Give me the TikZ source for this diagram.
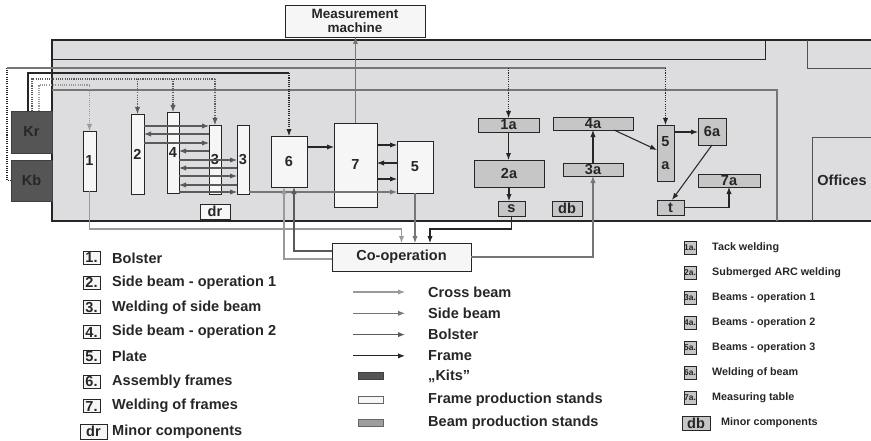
\documentclass[tikz,border=0pt]{standalone}
\usepackage{fontspec}
\setmainfont{Liberation Sans}
\usepackage{xcolor}
\definecolor{hall}{HTML}{DDDDDF}
\definecolor{kits}{HTML}{555555}
\definecolor{fstand}{HTML}{F6F6F6}
\definecolor{bstand}{HTML}{C6C6C6}
\definecolor{ink}{HTML}{262626}
\definecolor{crossc}{HTML}{9A9A9A}
\definecolor{sidec}{HTML}{767676}
\definecolor{bolsc}{HTML}{5A5A5A}
\definecolor{framec}{HTML}{262626}
\usetikzlibrary{arrows.meta,positioning}
\tikzset{
  sz/.style 2 args = {minimum width=#1*0.3mm, minimum height=#2*0.3mm},
  lbl/.style      = {font=\fontsize{12.4}{14}\selectfont\bfseries, text=ink},
  slbl/.style     = {font=\fontsize{9.2}{11}\selectfont\bfseries, text=ink},
  kit/.style      = {rectangle, draw=black!75, fill=kits, line width=0.6pt,
                     inner sep=0pt, outer sep=0pt, lbl, text=black!85},
  fstandbox/.style = {rectangle, draw=ink, fill=fstand, line width=0.8pt,
                     inner sep=0pt, outer sep=0pt, lbl},
  bstandbox/.style = {rectangle, draw=ink, fill=bstand, line width=0.8pt,
                     inner sep=0pt, outer sep=0pt, lbl},
  arrtip/.style   = {-{Latex[length=2.1mm,width=1.6mm]}},
  crossarr/.style = {draw=crossc, line width=0.9pt, arrtip},
  sidearr/.style  = {draw=sidec, line width=0.9pt, arrtip},
  bolsarr/.style  = {draw=bolsc, line width=0.9pt, arrtip},
  framearr/.style = {draw=framec, line width=0.9pt, arrtip}
}
\begin{document}
\begin{tikzpicture}[x=0.3mm, y=-0.3mm]
  \useasboundingbox (0,0) rectangle (871,441);

  % hall
  \fill[hall] (52,40) rectangle (871,221);
  \draw[framec, line width=2pt] (871,40) -- (52,40) -- (52,221) -- (871,221);
  \draw[framec, line width=0.8pt] (52,59) -- (765,59) -- (765,40);
  \draw[framec!80, line width=0.8pt] (807,40) -- (807,68) -- (871,68);
  \draw[sidec, line width=0.9pt] (52,90) -- (777,90) -- (777,221);
  \draw[framec!80, line width=0.8pt] (812,221) -- (812,137) -- (871,137);
  \node[lbl] (off) at (842,180) {Offices};

  % kits
  \node[kit, sz={41}{42}] (kr) at (31.5,132) {Kr};
  \node[kit, sz={41}{41}] (kb) at (31.5,180.5) {Kb};

  % frame production stands
  \node[fstandbox, sz={13}{60}] (n1) at (89.5,161) {1};
  \node[fstandbox, sz={13}{80}] (n2) at (137.5,154) {2};
  \node[fstandbox, sz={12}{81}] (n4) at (173,152.5) {4};
  \node[fstandbox, sz={12}{69}] (n3) at (215,159.5) {3};
  \node[fstandbox, sz={12}{69}] (n3b) at (243,159.5) {3};
  \node[fstandbox, sz={36}{51}] (n6) at (289,161.5) {6};
  \node[fstandbox, sz={43}{84}] (n7) at (355.5,165) {7};
  \node[fstandbox, sz={36}{52}] (n5) at (415,167) {5};
  \node[fstandbox, sz={30}{15}] (ndr) at (215,211.5) {dr};
  \node[fstandbox, sz={140}{32}, align=center,
        font=\fontsize{11.5}{11.5}\selectfont\bfseries] (mm) at (355,21)
       {Measurement\\machine};
  \node[fstandbox, sz={139}{28}] (coop) at (401.5,257) {Co-operation};

  % beam production stands
  \node[bstandbox, sz={61}{14}] (n1a) at (508.5,125) {1a};
  \node[bstandbox, sz={70}{27}] (n2a) at (509,173.5) {2a};
  \node[bstandbox, sz={27}{15}] (ns) at (511.5,208.5) {s};
  \node[bstandbox, sz={30}{15}] (ndb) at (567,208.5) {db};
  \node[bstandbox, sz={80}{13}] (n4a) at (593,123.5) {4a};
  \node[bstandbox, sz={60}{13}] (n3a) at (593,169.5) {3a};
  \node[bstandbox, sz={17}{56}, align=center] (n5a) at (665.5,153) {5\\[5pt]a};
  \node[bstandbox, sz={28}{27}] (n6a) at (712,131.5) {6a};
  \node[bstandbox, sz={62}{13}] (n7a) at (729,180.5) {7a};
  \node[bstandbox, sz={27}{15}] (nt) at (670.5,207.5) {t};

  % supply from the kits
  \draw[framec, line width=0.9pt] (kr.north -| 28,0) |- (n6.north |- 0,73);
  \draw[framearr, densely dotted] (n6.north |- 0,73) -- (n6.north);
  \draw[bolsc, line width=0.9pt, densely dotted] (kr.north -| 32,0) |- (n3.north |- 0,79);
  \foreach \n in {n2,n4,n3}
    \draw[bolsarr, densely dotted] (\n.north |- 0,79) -- (\n.north);
  \draw[crossarr, densely dotted] (kr.north -| 39,0) |- (n1.north |- 0,85) -- (n1.north);
  \draw[framec, line width=0.9pt, densely dotted] (kb.west) -- (7,180.5) -- (7,68);
  \draw[sidec, line width=0.9pt] (7,68) -- (n5a.north |- 0,68);
  \foreach \n in {n1a,n5a}
    \draw[framearr, densely dotted] (\n.north |- 0,68) -- (\n.north);

  % flows between the stands
  \foreach \a/\b/\y in {n2/n3/126, n2/n3/143, n4/n3b/160, n4/n3b/176, n4/n3b/192}
    \draw[bolsarr] (\a.east |- 0,\y) -- (\b.west |- 0,\y);
  \foreach \a/\b/\y in {n3/n2/134, n3/n4/151, n3b/n4/168, n3b/n4/185}
    \draw[bolsarr] (\a.west |- 0,\y) -- (\b.east |- 0,\y);
  \draw[sidearr] (n3b.east |- 0,192) -- (n5.west |- 0,192);
  \foreach \a/\b/\y in {n6/n7/147, n7/n5/145, n7/n5/179}
    \draw[framearr] (\a.east |- 0,\y) -- (\b.west |- 0,\y);
  \draw[framearr] (n5.west |- 0,163) -- (n7.east |- 0,163);
  \draw[sidearr] (n7.north) -- (mm.south -| n7.north);

  % co-operation
  \draw[crossarr] (n1.south) |- (coop.north |- 0,229) -- (coop.north);
  \draw[sidearr] (n5.south) -- (n5.south |- coop.north);
  \draw[framearr] (ns.south) |- (430,229) -- (coop.north -| 430,0);
  \draw[sidearr] (coop.east) -| (n3a.south);
  \draw[bolsarr] (coop.west |- 0,251) -| (n6.south -| 294,0);
  \draw[crossarr] (coop.west |- 0,259) -| (n6.south -| 284,0);

  % beams
  \draw[framearr] (n1a.south) -- (n2a.north -| n1a.south);
  \draw[framearr] (n2a.south) -- (ns.north -| n2a.south);
  \draw[framearr] (n3a.north) -- (n4a.south);
  \draw[framearr] (n4a.south -| 614,0) -- (n5a.west |- 0,150);
  \draw[framearr] (n5a.east |- 0,132) -- (n6a.west |- 0,132);
  \draw[framearr] (n6a.south) -- (nt.north -| 672,0);
  \draw[framearr] (nt.east) -| (n7a.south);

  % legend: frame stands
  \foreach \k/\t [count=\i] in {1./Bolster, 2./Side beam - operation 1,
      3./Welding of side beam, 4./Side beam - operation 2, 5./Plate,
      6./Assembly frames, 7./Welding of frames} {
    \node[fstandbox, sz={17}{13}] (lk\i) at (91.5,{258+24.7*(\i-1)}) {\k};
    \node[lbl, inner sep=0pt, right=3.6mm of lk\i] (lt\i) {\t};
  }
  \node[fstandbox, sz={27}{15}] (lk8) at (93.5,431.5) {dr};
  \node[lbl, inner sep=0pt, right=1.5mm of lk8] (lt8) {Minor components};

  % legend: flows and stands
  \foreach \s/\t [count=\i] in {crossarr/Cross beam, sidearr/Side beam,
      bolsarr/Bolster, framearr/Frame} {
    \coordinate (ls\i) at (353,{292+21.3*(\i-1)});
    \node[lbl, inner sep=0pt, anchor=west] (mt\i) at (428,{292+21.3*(\i-1)}) {\t};
    \draw[\s] (ls\i) -- ++(52,0);
  }
  \node[kit, sz={25}{7}] (mr1) at (370.5,376) {};
  \node[fstandbox, sz={25}{7}, draw=black!60, line width=0.6pt] (mr2) at (370.5,400) {};
  \node[bstandbox, sz={25}{7}, draw=black!60, fill=black!38, line width=0.6pt] (mr3) at (370.5,423) {};
  \node[lbl, inner sep=0pt, anchor=west] (mt5) at (428,376) {„Kits”};
  \node[lbl, inner sep=0pt, anchor=west] (mt6) at (428,400) {Frame production stands};
  \node[lbl, inner sep=0pt, anchor=west] (mt7) at (428,423) {Beam production stands};

  % legend: beam stands
  \foreach \k/\t [count=\i] in {1a./Tack welding, 2a./Submerged ARC welding,
      3a./Beams - operation 1, 4a./Beams - operation 2, 5a./Beams - operation 3,
      6a./Welding of beam, 7a./Measuring table} {
    \node[bstandbox, sz={12}{13}, font=\fontsize{7.2}{7.5}\selectfont\bfseries]
         (rk\i) at (690,{248+25*(\i-1)}) {\k};
    \node[slbl, inner sep=0pt, anchor=west] (rt\i) at (712,{248+25*(\i-1)}) {\t};
  }
  \node[bstandbox, sz={28}{14}] (rk8) at (696,423) {db};
  \node[slbl, inner sep=0pt, anchor=west] (rt8) at (721,423) {Minor components};
\end{tikzpicture}
\end{document}
